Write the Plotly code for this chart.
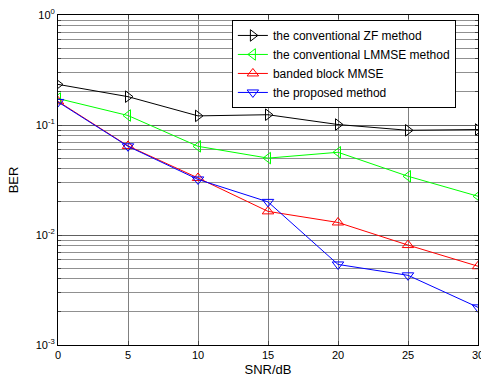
import plotly.graph_objects as go

snr = [0, 5, 10, 15, 20, 25, 30]
ber_zf = [0.234, 0.181, 0.121, 0.124, 0.101, 0.0895, 0.091]
ber_lmmse = [0.174, 0.122, 0.064, 0.050, 0.0565, 0.0342, 0.0225]
ber_banded = [0.164, 0.0645, 0.033, 0.0164, 0.013, 0.0081, 0.0052]
ber_proposed = [0.162, 0.064, 0.032, 0.020, 0.0054, 0.0043, 0.0022]

names = ["the conventional ZF method", "the conventional LMMSE method",
         "banded block MMSE", "the proposed method"]
colors = ["#000000", "#00ff00", "#ff0000", "#0000ff"]
symbols = ["triangle-right-open", "triangle-left-open", "triangle-up-open", "triangle-down-open"]
series = [ber_zf, ber_lmmse, ber_banded, ber_proposed]

ytickvals = [1e-3, 1e-2, 1e-1, 1]
yticktext = ["10<sup>-3</sup>", "10<sup>-2</sup>", "10<sup>-1</sup>", "10<sup>0</sup>"]

fig = go.Figure()
for n, c, s, y in zip(names, colors, symbols, series):
    fig.add_trace(go.Scatter(x=snr, y=y, name=n, mode="lines+markers",
                             line=dict(color=c, width=1),
                             marker=dict(symbol=s, size=10, color=c, line=dict(color=c, width=1))))

font = dict(family="Liberation Sans, Arial", size=11, color="#000000")
fig.update_layout(
    width=481, height=381,
    margin=dict(l=58, r=3, t=15, b=36, autoexpand=False),
    paper_bgcolor="white", plot_bgcolor="white",
    font=font,
    showlegend=True,
    legend=dict(x=0.414, y=0.985, xanchor="left", yanchor="top",
                bordercolor="#000000", borderwidth=1, bgcolor="white",
                font=dict(family="Liberation Sans, Arial", size=12, color="#000000"),
                tracegroupgap=0, itemwidth=30),
    xaxis=dict(range=[0, 30], tickvals=snr, ticks="inside", ticklen=4,
               showline=True, linecolor="#000000", linewidth=1, mirror="ticks",
               showgrid=True, gridcolor="#808080", gridwidth=1, zeroline=False,
               ticklabeloverflow="allow", automargin=False,
               title=dict(text="SNR/dB", standoff=4), tickfont=font),
    yaxis=dict(type="log", range=[-3, 0], tickmode="array", tickvals=ytickvals, ticktext=yticktext,
               ticks="inside", ticklen=4, automargin=False,
               showline=True, linecolor="#000000", linewidth=1, mirror="ticks",
               showgrid=True, gridcolor="#606060", gridwidth=1, zeroline=False,
               minor=dict(dtick="D1", ticks="inside", ticklen=3, showgrid=True,
                          gridcolor="#909090", gridwidth=1),
               title=dict(text="BER", standoff=14), tickfont=font),
)
fig.write_html("out.html", config={"displayModeBar": False},
               post_script="document.body.style.margin='0px';")
